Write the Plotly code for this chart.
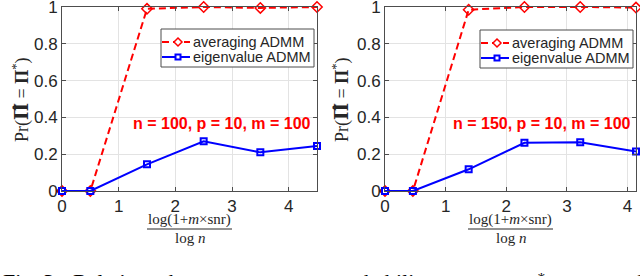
import plotly.graph_objects as go

W, H = 640, 276

# ---------------- data ----------------
x_left = [0, 0.5, 1.5, 2.5, 3.5, 4.5]
avg_left = [0.0, 0.0, 0.99, 1.0, 0.995, 1.0]
eig_left = [0.0, 0.0, 0.145, 0.27, 0.21, 0.245]

x_right = [0, 0.46, 1.38, 2.30, 3.22, 4.14]
avg_right = [0.0, 0.0, 0.985, 1.0, 1.0, 0.997]
eig_right = [0.0, 0.0, 0.118, 0.262, 0.265, 0.215]

x_ticks = [0, 1, 2, 3, 4]
y_ticks = [0, 0.2, 0.4, 0.6, 0.8, 1]
y_tick_labels = ["0", "0.2", "0.4", "0.6", "0.8", "1"]
series_names = ["averaging ADMM", "eigenvalue ADMM"]
panel_labels = ["n = 100, p = 10, m = 100", "n = 150, p = 10, m = 100"]
caption_words = ["Fig. 3:", "Relation", "between", "correct", "probability",
                 "Pr(<b>Π̂</b> = <b>Π</b><sup>*</sup>)", "and"]
# --------------------------------------


def px(x):
    return x / W


def py(y):
    return 1 - y / H


RED = "#ff0000"
BLUE = "#0000ff"
AX = "#4d4d4d"
TXT = "#262626"
DASH = "7px,4px"

fig = go.Figure()

panels = [
    (x_left, avg_left, eig_left, "x", "y"),
    (x_right, avg_right, eig_right, "x2", "y2"),
]
for xs, av, ei, xa, ya in panels:
    fig.add_trace(go.Scatter(
        x=xs, y=av, name=series_names[0], mode="lines+markers",
        line=dict(color=RED, width=2, dash=DASH),
        marker=dict(symbol="diamond-open", size=8, color=RED, line=dict(width=1.5, color=RED)),
        xaxis=xa, yaxis=ya, cliponaxis=False, showlegend=False))
    fig.add_trace(go.Scatter(
        x=xs, y=ei, name=series_names[1], mode="lines+markers",
        line=dict(color=BLUE, width=2),
        marker=dict(symbol="square-open", size=6, color=BLUE, line=dict(width=2, color=BLUE)),
        xaxis=xa, yaxis=ya, cliponaxis=False, showlegend=False))

axis_common = dict(
    showline=True, linecolor=AX, linewidth=1, mirror="ticks",
    ticks="inside", ticklen=4, tickcolor=AX, tickwidth=1,
    showgrid=True, gridcolor="#e3e3e3", gridwidth=1, zeroline=False,
    ticklabeloverflow="allow", automargin=False,
    tickfont=dict(family="Liberation Sans", size=17, color=TXT),
)

ydom = [py(191), py(7)]
fig.update_layout(
    width=W, height=H,
    margin=dict(l=0, r=0, t=0, b=0, pad=0, autoexpand=False),
    paper_bgcolor="white", plot_bgcolor="white",
    xaxis=dict(domain=[px(62), px(317)], range=[0, 4.5], tickvals=x_ticks, anchor="y", **axis_common),
    yaxis=dict(domain=ydom, range=[0, 1], tickvals=y_ticks, ticktext=y_tick_labels, anchor="x", **axis_common),
    xaxis2=dict(domain=[px(385), px(636)], range=[0, 4.14], tickvals=x_ticks, anchor="y2", **axis_common),
    yaxis2=dict(domain=ydom, range=[0, 1], tickvals=y_ticks, ticktext=y_tick_labels, anchor="x2", **axis_common),
    showlegend=False,
)

annotations = []
shapes = []
ylab = "Pr(<span style='font-family:DejaVu Serif'><b>Π̂</b></span> = <b>Π</b><sup>*</sup>)"
for i, (cx, right, ylab_x, dx, dy) in enumerate([(189.5, 313, 21, 0, 0), (510.5, 633, 341, 319, 1)]):
    # panel label
    annotations.append(dict(
        x=px(right), y=py(123), xref="paper", yref="paper", xanchor="right", yanchor="middle",
        text="<b>" + panel_labels[i] + "</b>", showarrow=False,
        font=dict(family="Liberation Sans", size=16, color=RED)))
    # y label
    annotations.append(dict(
        x=px(ylab_x), y=py(100), xref="paper", yref="paper", xanchor="center", yanchor="middle",
        text=ylab, textangle=-90, showarrow=False,
        font=dict(family="Liberation Serif", size=18, color=TXT)))
    # x label as a fraction
    annotations.append(dict(
        x=px(cx), y=py(229), xref="paper", yref="paper", xanchor="center", yanchor="bottom",
        text="log(1+<i>m</i>×snr)", showarrow=False, borderpad=0,
        font=dict(family="Liberation Serif", size=15, color=TXT)))
    annotations.append(dict(
        x=px(cx), y=py(229), xref="paper", yref="paper", xanchor="center", yanchor="top",
        text="log <i>n</i>", showarrow=False, borderpad=0,
        font=dict(family="Liberation Serif", size=15, color=TXT)))
    shapes.append(dict(type="line", xref="paper", yref="paper",
                       x0=px(cx - 42.5), x1=px(cx + 42.5), y0=py(229), y1=py(229),
                       line=dict(color=TXT, width=1)))

    # legend (box, samples, labels)
    bx0, bx1, by0, by1 = 161 + dx, 314 + dx, 29 + dy, 67 + dy
    shapes.append(dict(type="rect", xref="paper", yref="paper", layer="above",
                       x0=px(bx0), x1=px(bx1), y0=py(by1), y1=py(by0),
                       line=dict(color=AX, width=1), fillcolor="white"))
    rows = [(42 + dy, RED, DASH), (57 + dy, BLUE, "solid")]
    for (ry, col, dsh), name in zip(rows, series_names):
        shapes.append(dict(type="line", xref="paper", yref="paper", layer="above",
                           x0=px(162 + dx), x1=px(190 + dx), y0=py(ry), y1=py(ry),
                           line=dict(color=col, width=2, dash=dsh)))
        annotations.append(dict(
            x=px(192 + dx), y=py(ry), xref="paper", yref="paper", xanchor="left", yanchor="middle",
            text=name, showarrow=False, borderpad=0,
            font=dict(family="Liberation Sans", size=14.5, color=TXT)))
    mx = 178 + dx
    r0 = rows[0][0]
    shapes.append(dict(type="path", xref="paper", yref="paper", layer="above",
                       path=f"M{px(mx)},{py(r0 - 4)} L{px(mx + 4)},{py(r0)} L{px(mx)},{py(r0 + 4)} L{px(mx - 4)},{py(r0)} Z",
                       line=dict(color=RED, width=1.5), fillcolor="white"))
    r1 = rows[1][0]
    shapes.append(dict(type="rect", xref="paper", yref="paper", layer="above",
                       x0=px(mx - 2.5), x1=px(mx + 2.5), y0=py(r1 + 2.5), y1=py(r1 - 2.5),
                       line=dict(color=BLUE, width=2), fillcolor="white"))

cap_x = [2, 72, 168, 262, 334, 452, 610]
for wtxt, xx in zip(caption_words, cap_x):
    annotations.append(dict(
        x=px(xx), y=py(268), xref="paper", yref="paper", xanchor="left", yanchor="top",
        text=wtxt, showarrow=False, borderpad=0,
        font=dict(family="Liberation Serif", size=22, color="black")))

fig.update_layout(annotations=annotations, shapes=shapes)

fig.write_html("out.html", config={"displayModeBar": False},
               post_script="document.body.style.margin='0';document.body.style.overflow='hidden';")
